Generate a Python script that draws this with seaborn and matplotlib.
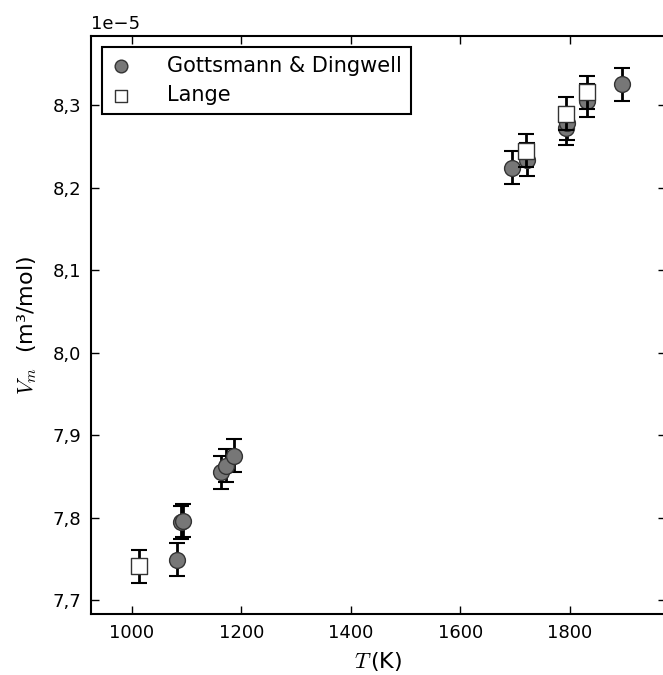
import numpy as np
import pandas as pd
import matplotlib
matplotlib.use("Agg")
import matplotlib.pyplot as plt
from matplotlib.ticker import FuncFormatter, MultipleLocator
import seaborn as sns

# Gottsmann & Dingwell data (T in K, Vm in m3/mol)
gd_T = [1083, 1090, 1094, 1163, 1172, 1186, 1695, 1722, 1794, 1795, 1832, 1895]
gd_V = [7.749e-5, 7.7945e-5, 7.7965e-5, 7.8555e-5, 7.8628e-5, 7.8753e-5,
        8.2244e-5, 8.2337e-5, 8.272e-5, 8.278e-5, 8.3058e-5, 8.3255e-5]
gd_err = [0.02e-5] * 12

# Lange data
la_T = [1013, 1721, 1793, 1831]
la_V = [7.741e-5, 8.245e-5, 8.2895e-5, 8.3158e-5]
la_err = [0.02e-5] * 4

xticks = [1000, 1200, 1400, 1600, 1800]

sns.set_style("ticks")
plt.rcParams['font.family'] = ['DejaVu Sans']
plt.rcParams['mathtext.fontset'] = 'cm'
plt.rcParams['text.color'] = 'black'
plt.rcParams['axes.labelcolor'] = 'black'

fig = plt.figure(figsize=(6.63, 6.75), dpi=100)
ax = fig.add_axes([91/663, 61/675, 575/663, 578/675])

gd = pd.DataFrame({"T": gd_T, "V": gd_V})
la = pd.DataFrame({"T": la_T, "V": la_V})

ax.errorbar(gd_T, gd_V, yerr=gd_err, fmt='none', ecolor='black',
            elinewidth=2, capsize=6, capthick=1.5, zorder=2)
sns.scatterplot(data=gd, x="T", y="V", ax=ax, marker='o', s=130,
                color='#777777', edgecolor='#333333', linewidth=1,
                label='Gottsmann & Dingwell', zorder=3)
ax.errorbar(la_T, la_V, yerr=la_err, fmt='none', ecolor='black',
            elinewidth=2, capsize=6, capthick=1.5, zorder=4)
sns.scatterplot(data=la, x="T", y="V", ax=ax, marker='s', s=120,
                color='white', edgecolor='#333333', linewidth=1,
                label='Lange', zorder=5)

ax.set_xlim(925.6, 1976)
ax.set_ylim(7.6834e-5, 8.384e-5)
ax.set_xticks(xticks)
ax.yaxis.set_major_locator(MultipleLocator(0.1e-5))
ax.yaxis.set_major_formatter(FuncFormatter(lambda v, p: f"{v*1e5:.1f}".replace('.', ',')))
ax.text(0.0, 1.005, "1e\u22125", transform=ax.transAxes, ha='left', va='bottom',
        fontsize=13, color='black')

ax.tick_params(direction='in', top=True, right=True, length=6, width=1,
               labelsize=13, pad=7, colors='black')
for s in ax.spines.values():
    s.set_linewidth(1.5)
    s.set_color('black')

ax.set_xlabel(r"$T\,$(K)", fontsize=16, labelpad=6)
ax.set_ylabel(r"$V_m$  (m³/mol)", fontsize=16, labelpad=10)

leg = ax.legend(loc='upper left', bbox_to_anchor=(0.019, 0.981), borderaxespad=0,
                fontsize=15, frameon=True, fancybox=False, edgecolor='black',
                framealpha=1, handletextpad=1.7, borderpad=0.42, handlelength=1.0,
                labelspacing=0.45, markerscale=0.8)
leg.get_frame().set_linewidth(1.5)
for t in leg.get_texts():
    t.set_color('black')

fig.savefig("out.png", dpi=100)
